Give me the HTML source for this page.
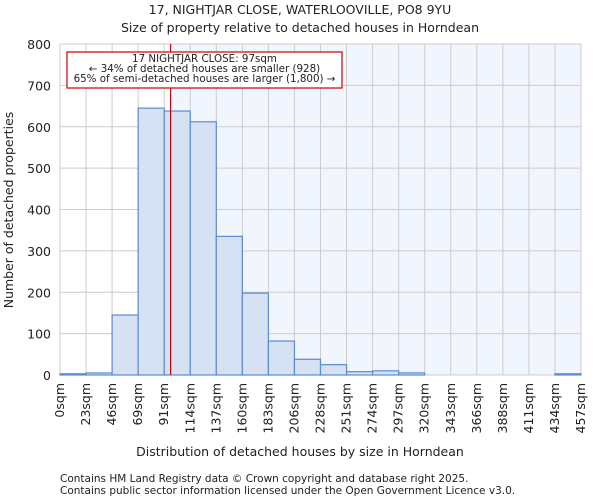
<!DOCTYPE html>
<html><head><meta charset="utf-8"><style>
body{margin:0;background:#fff;font-family:"DejaVu Sans","Liberation Sans",sans-serif;}
svg text{font-family:"DejaVu Sans","Liberation Sans",sans-serif;fill:#222;}
</style></head><body>
<svg id="c" width="600" height="500">
<text x="300" y="14" text-anchor="middle" font-size="12.5">17, NIGHTJAR CLOSE, WATERLOOVILLE, PO8 9YU</text>
<text x="300" y="32" text-anchor="middle" font-size="12.5">Size of property relative to detached houses in Horndean</text>
<g id="plot"></g>
<text x="300" y="456" text-anchor="middle" font-size="12.5">Distribution of detached houses by size in Horndean</text>
<text transform="translate(13,210) rotate(-90)" text-anchor="middle" font-size="12.5">Number of detached properties</text>
<text x="60" y="482" font-size="10.5">Contains HM Land Registry data © Crown copyright and database right 2025.</text>
<text x="60" y="494" font-size="10.5">Contains public sector information licensed under the Open Government Licence v3.0.</text>
</svg>
<script>
const tickLabels=["0sqm","23sqm","46sqm","69sqm","91sqm","114sqm","137sqm","160sqm","183sqm","206sqm","228sqm","251sqm","274sqm","297sqm","320sqm","343sqm","366sqm","388sqm","411sqm","434sqm","457sqm"];
const counts=[3,5,145,645,638,612,335,198,82,38,25,8,10,5,0,0,0,0,0,3];
const yTicks=[0,100,200,300,400,500,600,700,800];
const propertySize=97;
const xMax=457;
const NS="http://www.w3.org/2000/svg";
const L=60,R=581,T=44,B=375;
const nb=counts.length;
const bx=i=>L+(R-L)*i/nb;
const xs=v=>L+(R-L)*v/xMax;
const ys=v=>B-(B-T)*v/800;
const g=document.getElementById('plot');
function mk(t,a){const e=document.createElementNS(NS,t);for(const k in a)e.setAttribute(k,a[k]);g.appendChild(e);return e;}
const px=xs(propertySize);
let e=mk('rect',{x:px,y:T,width:R-px,height:B-T,fill:'#f1f5fd'});


for(let i=0;i<=nb;i++){e=mk('line',{x1:bx(i),x2:bx(i),y1:T,y2:B,stroke:'#cccccc','stroke-width':1});

}
yTicks.forEach(v=>{e=mk('line',{x1:L,x2:R,y1:ys(v),y2:ys(v),stroke:'#cccccc','stroke-width':1});


e=mk('text',{x:L-9,y:ys(v)+5,'text-anchor':'end','font-size':'12.5'});e.textContent=v;

});
counts.forEach((c,i)=>{e=mk('rect',{x:bx(i),y:ys(c),width:bx(i+1)-bx(i),height:B-ys(c),fill:'#d6e1f3',stroke:'#5b8bd0','stroke-width':1.2});

});
tickLabels.forEach((t,i)=>{const x=bx(i);e=mk('text',{transform:`translate(${x+4},${B+8}) rotate(-90)`,'text-anchor':'end','font-size':'12.5'});e.textContent=t;

});
e=mk('line',{x1:px,x2:px,y1:T,y2:B,stroke:'#cc0000','stroke-width':1.2});


e=mk('rect',{x:67,y:52,width:275,height:36,fill:'#fff',stroke:'#cc0000','stroke-width':1.2});


["17 NIGHTJAR CLOSE: 97sqm","← 34% of detached houses are smaller (928)","65% of semi-detached houses are larger (1,800) →"].forEach((t,i)=>{e=mk('text',{x:204.5,y:62+i*10,'text-anchor':'middle','font-size':'10.3'});e.textContent=t;

});
</script>
</body></html>
